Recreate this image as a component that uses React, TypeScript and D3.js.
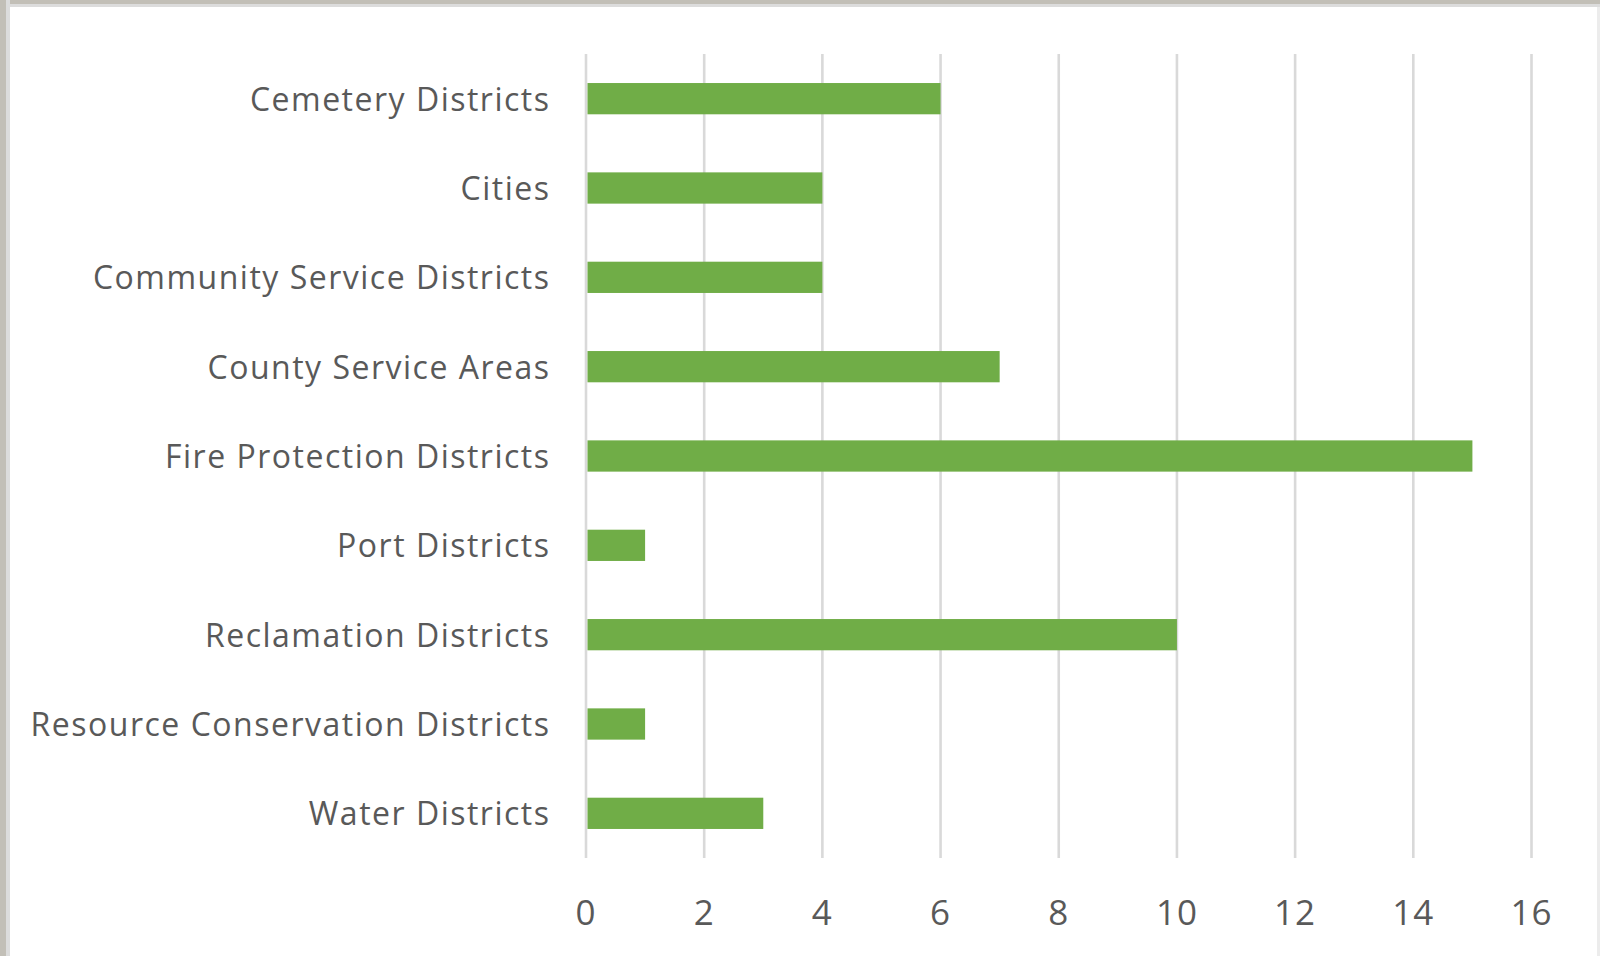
import React from "react";
import * as d3 from "d3";

const categories = [
  "Cemetery Districts",
  "Cities",
  "Community Service Districts",
  "County Service Areas",
  "Fire Protection Districts",
  "Port Districts",
  "Reclamation Districts",
  "Resource Conservation Districts",
  "Water Districts",
];
const values = [6, 4, 4, 7, 15, 1, 10, 1, 3];
const xTicks = [0, 2, 4, 6, 8, 10, 12, 14, 16];

const W = 1600;
const H = 956;
const FONT = "'Open Sans', 'Noto Sans', sans-serif";

export default function App() {
  const x = d3.scaleLinear().domain([0, 16]).range([586, 1531.5]);
  const y = d3.scaleBand<string>().domain(categories).range([54, 858]).paddingInner(0.65).paddingOuter(0.325);

  return (
    <svg width={W} height={H} style={{ position: "absolute", left: 0, top: 0 }}>
      <rect x={0} y={0} width={W} height={H} fill="#ffffff" />
      {/* frame */}
      <rect x={0} y={0} width={W} height={7} fill="#dcdcdc" />
      <rect x={0} y={0} width={W} height={4} fill="#c2bfb7" />
      <rect x={0} y={0} width={10} height={H} fill="#dcdcdc" />
      <rect x={0} y={0} width={6} height={H} fill="#c2bfb7" />
      <rect x={1597} y={7} width={3} height={H} fill="#ececec" />
      {/* grid */}
      {xTicks.map((t) => (
        <line key={t} x1={x(t)} x2={x(t)} y1={54} y2={858} stroke="#d9d9d9" strokeWidth={2.6} />
      ))}
      {/* bars */}
      {categories.map((c, i) => (
        <rect
          key={c}
          x={x(0) + 1.5}
          y={y(c)}
          width={x(values[i]) - x(0) - 1.5}
          height={y.bandwidth()}
          fill="#70ad47"
        />
      ))}
      {/* category labels */}
      {categories.map((c) => (
        <text
          key={c}
          x={550.5}
          y={(y(c) as number) + y.bandwidth() / 2 + 12}
          textAnchor="end"
          fontFamily={FONT}
          fontSize={32}
          letterSpacing={1.5}
          fill="#595959"
        >
          {c}
        </text>
      ))}
      {/* tick labels */}
      {xTicks.map((t) => (
        <text
          key={t}
          x={x(t)}
          y={925}
          textAnchor="middle"
          fontFamily={FONT}
          fontSize={35}
          letterSpacing={1}
          fill="#595959"
        >
          {t}
        </text>
      ))}
    </svg>
  );
}
